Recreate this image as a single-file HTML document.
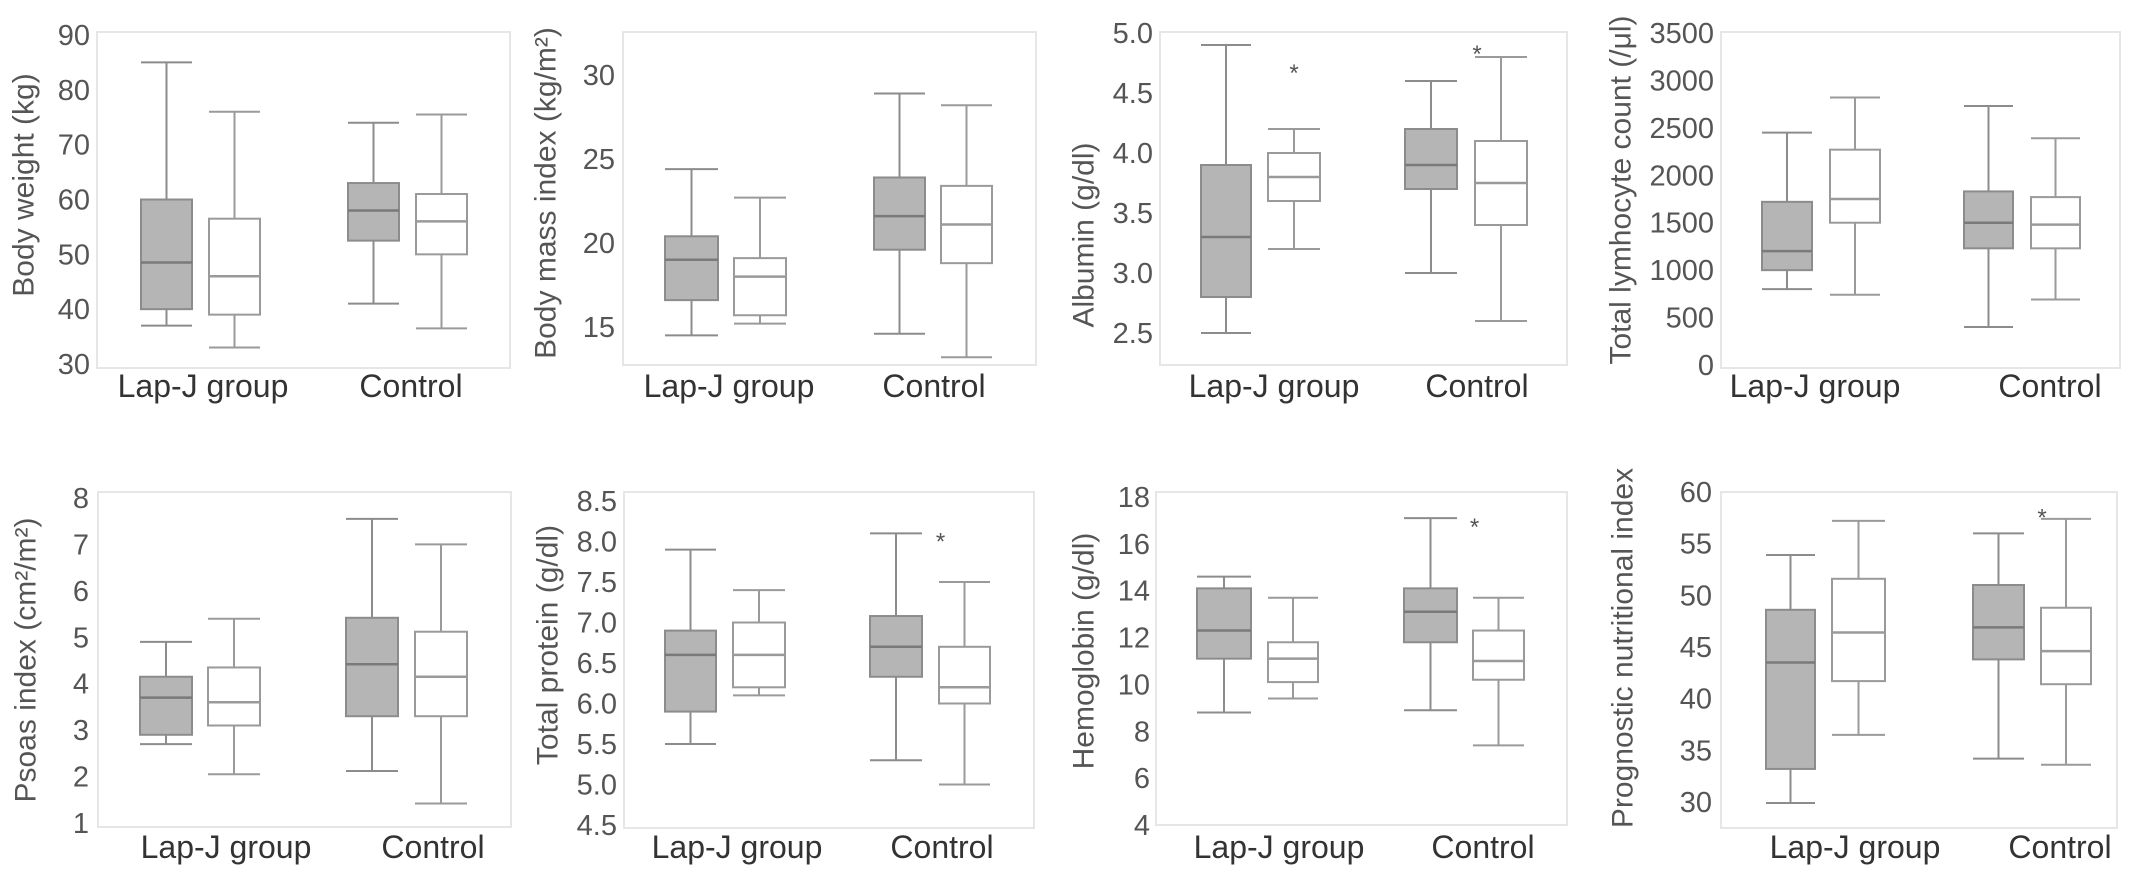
<!DOCTYPE html>
<html><head><meta charset="utf-8"><style>
html,body{margin:0;padding:0;background:#fff;}
svg{display:block;font-family:"Liberation Sans",sans-serif;}
</style></head><body>
<svg id="chart" width="2150" height="875" viewBox="0 0 2150 875" xmlns="http://www.w3.org/2000/svg"></svg>
<script>
// Data: each box = [min, q1, median, q3, max]; order: Lap-J pre (gray), Lap-J post (white), Control pre (gray), Control post (white)
const categories = ["Lap-J group", "Control"];
const bodyWeight = [[37,40,48.5,60,85],[33,39,46,56.5,76],[41,52.5,58,63,74],[36.5,50,56,61,75.5]];
const bmi = [[14.5,16.6,19,20.4,24.4],[15.2,15.7,18,19.1,22.7],[14.6,19.6,21.6,23.9,28.9],[13.2,18.8,21.1,23.4,28.2]];
const albumin = [[2.5,2.8,3.3,3.9,4.9],[3.2,3.6,3.8,4.0,4.2],[3.0,3.7,3.9,4.2,4.6],[2.6,3.4,3.75,4.1,4.8]];
const lymph = [[800,1000,1200,1720,2450],[740,1500,1750,2270,2820],[400,1230,1500,1830,2730],[690,1230,1480,1770,2390]];
const psoas = [[2.7,2.9,3.7,4.15,4.9],[2.05,3.1,3.6,4.35,5.4],[2.12,3.3,4.42,5.42,7.55],[1.42,3.3,4.15,5.12,7.0]];
const protein = [[5.5,5.9,6.6,6.9,7.9],[6.1,6.2,6.6,7.0,7.4],[5.3,6.33,6.7,7.08,8.1],[5.0,6.0,6.2,6.7,7.5]];
const hemoglobin = [[8.8,11.1,12.3,14.1,14.6],[9.4,10.1,11.1,11.8,13.7],[8.9,11.8,13.1,14.1,17.1],[7.4,10.2,11.0,12.3,13.7]];
const pni = [[29.9,33.2,43.5,48.6,53.9],[36.5,41.7,46.4,51.6,57.2],[34.2,43.8,46.9,51,56],[33.6,41.4,44.6,48.8,57.4]];
// Asterisk markers: [box index, value]
const albuminStars = [[1,4.7],[3,4.86]];
const proteinStars = [[3,8.05]];
const hemoglobinStars = [[3,16.9]];
const pniStars = [[3,57.9]];
const ticksBW = ["30","40","50","60","70","80","90"];
const ticksBMI = ["15","20","25","30"];
const ticksAlb = ["2.5","3.0","3.5","4.0","4.5","5.0"];
const ticksLym = ["0","500","1000","1500","2000","2500","3000","3500"];
const ticksPso = ["1","2","3","4","5","6","7","8"];
const ticksPro = ["4.5","5.0","5.5","6.0","6.5","7.0","7.5","8.0","8.5"];
const ticksHb = ["4","6","8","10","12","14","16","18"];
const ticksPni = ["30","35","40","45","50","55","60"];

const NS="http://www.w3.org/2000/svg";
const svg=document.getElementById('chart');
function mk(tag,attrs,parent){const e=document.createElementNS(NS,tag);for(const k in attrs)e.setAttribute(k,attrs[k]);(parent||svg).appendChild(e);return e;}

const panels=[
 {name:"body-weight",title:"Body weight (kg)",data:bodyWeight,ticks:ticksBW,stars:[],fx0:97,fx1:510,fy0:32,fy1:368,v0:30,p0:364,v1:90,p1:35,
  boxes:[[141,192],[209,260],[348,399],[416,467]],tickX:90,labX:[203,411],labY:386,ylX:24,ylY:185},
 {name:"body-mass-index",title:"Body mass index (kg/m²)",data:bmi,ticks:ticksBMI,stars:[],fx0:623,fx1:1036,fy0:32,fy1:365,v0:15,p0:327,v1:30,p1:75,
  boxes:[[665,718],[734,786],[874,925],[941,992]],tickX:615,labX:[729,934],labY:386,ylX:546,ylY:193},
 {name:"albumin",title:"Albumin (g/dl)",data:albumin,ticks:ticksAlb,stars:albuminStars,fx0:1160,fx1:1567,fy0:32,fy1:365,v0:2.5,p0:333,v1:5.0,p1:33,
  boxes:[[1201,1251],[1268,1320],[1405,1457],[1475,1527]],tickX:1153,labX:[1274,1477],labY:386,ylX:1084,ylY:235},
 {name:"lymphocyte-count",title:"Total lymhocyte count (/μl)",data:lymph,ticks:ticksLym,stars:[],fx0:1721,fx1:2120,fy0:32,fy1:368,v0:0,p0:365,v1:3500,p1:33,
  boxes:[[1762,1812],[1830,1880],[1964,2013],[2031,2080]],tickX:1714,labX:[1815,2050],labY:386,ylX:1621,ylY:190},
 {name:"psoas-index",title:"Psoas index (cm²/m²)",data:psoas,ticks:ticksPso,stars:[],fx0:98,fx1:511,fy0:492,fy1:827,v0:1,p0:823,v1:8,p1:498,
  boxes:[[140,192],[208,260],[346,398],[415,467]],tickX:89,labX:[226,433],labY:847,ylX:26,ylY:660},
 {name:"total-protein",title:"Total protein (g/dl)",data:protein,ticks:ticksPro,stars:proteinStars,fx0:624,fx1:1034,fy0:492,fy1:828,v0:4.5,p0:825,v1:8.5,p1:501,
  boxes:[[665,716],[733,785],[870,922],[939,990]],tickX:617,labX:[737,942],labY:847,ylX:548,ylY:645},
 {name:"hemoglobin",title:"Hemoglobin (g/dl)",data:hemoglobin,ticks:ticksHb,stars:hemoglobinStars,fx0:1156,fx1:1567,fy0:492,fy1:825,v0:4,p0:825,v1:18,p1:497,
  boxes:[[1197,1251],[1268,1318],[1404,1457],[1473,1524]],tickX:1150,labX:[1279,1483],labY:847,ylX:1084,ylY:651},
 {name:"prognostic-nutritional-index",title:"Prognostic nutritional index",data:pni,ticks:ticksPni,stars:pniStars,fx0:1721,fx1:2117,fy0:492,fy1:828,v0:30,p0:802,v1:60,p1:492,
  boxes:[[1766,1815],[1832,1885],[1973,2024],[2041,2091]],tickX:1712,labX:[1855,2060],labY:847,ylX:1623,ylY:648}
];

panels.forEach(P=>{
  const g=mk('g',{});
  
  
  const y=v=>P.p0+(v-P.v0)*(P.p1-P.p0)/(P.v1-P.v0);
  const fr=mk('rect',{x:P.fx0,y:P.fy0,width:P.fx1-P.fx0,height:P.fy1-P.fy0,fill:'none',stroke:'#e6e6e6','stroke-width':2},g);
  
  
  P.ticks.forEach(t=>{
    const tx=mk('text',{x:P.tickX,y:y(parseFloat(t))+10,'text-anchor':'end','font-size':29,fill:'#555'},g);
    tx.textContent=t;
    
    
  });
  const yl=mk('text',{x:P.ylX,y:P.ylY,'text-anchor':'middle','font-size':30,fill:'#555',transform:`rotate(-90 ${P.ylX} ${P.ylY})`,'dominant-baseline':'central'},g);
  yl.textContent=P.title;
  
  
  categories.forEach((c,i)=>{
    const t=mk('text',{x:P.labX[i],y:P.labY+11,'text-anchor':'middle','font-size':32,fill:'#333'},g);
    t.textContent=c;
    
    
  });
  P.data.forEach((d,i)=>{
    const [x0,x1]=P.boxes[i]; const cx=(x0+x1)/2;
    const gray=(i%2===0);
    const bg=mk('g',{},g);
    
    
    const sc=gray?'#8c8c8c':'#9a9a9a';
    mk('line',{x1:cx,x2:cx,y1:y(d[0]),y2:y(d[1]),stroke:sc,'stroke-width':2},bg);
    mk('line',{x1:cx,x2:cx,y1:y(d[3]),y2:y(d[4]),stroke:sc,'stroke-width':2},bg);
    mk('line',{x1:x0,x2:x1,y1:y(d[0]),y2:y(d[0]),stroke:sc,'stroke-width':2},bg);
    mk('line',{x1:x0,x2:x1,y1:y(d[4]),y2:y(d[4]),stroke:sc,'stroke-width':2},bg);
    mk('rect',{x:x0,y:y(d[3]),width:x1-x0,height:y(d[1])-y(d[3]),fill:gray?'#b5b5b5':'#fff',stroke:sc,'stroke-width':2},bg);
    mk('line',{x1:x0,x2:x1,y1:y(d[2]),y2:y(d[2]),stroke:gray?'#7a7a7a':'#9a9a9a','stroke-width':2.5},bg);
  });
  P.stars.forEach(s=>{
    const [bi,v]=s; const cx=(P.boxes[bi][0]+P.boxes[bi][1])/2;
    const st=mk('text',{x:cx-(bi===1?0:24),y:y(v)+12,'text-anchor':'middle','font-size':24,fill:'#555'},g);
    st.textContent='*';
    
    
  });
});
</script>
</body></html>
